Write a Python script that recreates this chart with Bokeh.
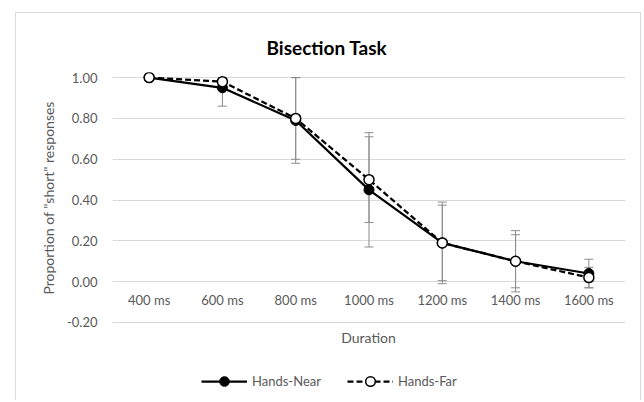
import numpy as np
from bokeh.plotting import figure
from bokeh.layouts import column
from bokeh.models import (ColumnDataSource, FactorRange, Range1d, FixedTicker, Label,
                          NumeralTickFormatter, Whisker, TeeHead, Legend, LegendItem, Title)
from bokeh.embed import file_html
from bokeh.resources import INLINE

durations = ["400 ms", "600 ms", "800 ms", "1000 ms", "1200 ms", "1400 ms", "1600 ms"]
near = [1.00, 0.95, 0.79, 0.45, 0.19, 0.10, 0.04]
near_err = [0.00, 0.09, 0.21, 0.28, 0.20, 0.15, 0.07]
far = [1.00, 0.98, 0.80, 0.50, 0.19, 0.10, 0.02]
far_err = [0.00, 0.03, 0.20, 0.21, 0.185, 0.13, 0.05]
y_ticks = [-0.2, 0.0, 0.2, 0.4, 0.6, 0.8, 1.0]

FONT = "Lato"
GREY = "#595959"
YMAX = 1.0

def src(vals, errs):
    v = np.array(vals)
    e = np.array(errs)
    return ColumnDataSource(dict(x=durations, y=v,
                                 upper=np.minimum(v + e, YMAX),
                                 lower=v - e))

s_near = src(near, near_err)
s_far = src(far, far_err)

p = figure(width=624, height=317, output_backend="svg", toolbar_location=None,
           x_range=FactorRange(*durations, range_padding=0),
           y_range=Range1d(-0.205, 1.025),
           min_border_left=96, min_border_right=15, min_border_top=59, min_border_bottom=7,
           outline_line_color=None, background_fill_color="white", border_fill_color="white")

p.title = Title(text="Bisection Task", align="left", text_font=FONT, text_font_size="19px",
                text_font_style="bold", text_color="#000000", offset=154, standoff=28)

p.xgrid.grid_line_color = None
p.ygrid.grid_line_color = "#d9d9d9"
p.ygrid.grid_line_width = 1
p.ygrid.ticker = FixedTicker(ticks=y_ticks)

p.yaxis.ticker = FixedTicker(ticks=y_ticks)
p.yaxis.formatter = NumeralTickFormatter(format="0.00")
p.yaxis.axis_line_color = None
p.yaxis.major_tick_line_color = None
p.yaxis.minor_tick_line_color = None
p.yaxis.major_tick_out = 0
p.yaxis.major_tick_in = 0
p.yaxis.major_label_standoff = 15
p.yaxis.major_label_text_font = FONT
p.yaxis.major_label_text_font_size = "13px"
p.yaxis.major_label_text_color = GREY
p.yaxis.axis_label = 'Proportion of "short" responses'
p.yaxis.axis_label_text_font = FONT
p.yaxis.axis_label_text_font_size = "14px"
p.yaxis.axis_label_text_font_style = "normal"
p.yaxis.axis_label_text_color = GREY
p.yaxis.axis_label_standoff = 7

p.xaxis.fixed_location = 0
p.xaxis.axis_line_color = None
p.xaxis.major_tick_line_color = None
p.xaxis.minor_tick_line_color = None
p.xaxis.major_tick_out = 0
p.xaxis.major_tick_in = 0
p.xaxis.major_label_standoff = 10
p.xaxis.major_label_text_font = FONT
p.xaxis.major_label_text_font_size = "13px"
p.xaxis.major_label_text_color = GREY

for s in (s_near, s_far):
    w = Whisker(base="x", upper="upper", lower="lower", source=s, dimension="height",
                line_color="#8c8c8c", line_width=1,
                upper_head=TeeHead(size=9, line_color="#8c8c8c", line_width=1),
                lower_head=TeeHead(size=9, line_color="#8c8c8c", line_width=1))
    p.add_layout(w)

p.line("x", "y", source=s_near, line_color="black", line_width=2.25)
p.scatter("x", "y", source=s_near, size=10, fill_color="black", line_color="black")
p.line("x", "y", source=s_far, line_color="black", line_width=2.25, line_dash="6 3")
p.scatter("x", "y", source=s_far, size=10, fill_color="white", line_color="black",
          line_width=1.5)

# lower strip: axis title and legend (series drawn out of view, only for legend glyphs)
p2 = figure(width=624, height=70, output_backend="svg", toolbar_location=None,
            x_range=FactorRange(*durations, range_padding=0), y_range=Range1d(10, 11),
            x_axis_type=None, y_axis_type=None, min_border=0,
            outline_line_color=None, background_fill_color="white", border_fill_color="white")
p2.xgrid.visible = False
p2.ygrid.visible = False

p2.add_layout(Label(x=256, y=63, x_units="screen", y_units="screen", text="Duration",
                    text_align="center", text_baseline="middle", text_font=FONT,
                    text_font_size="14px", text_color=GREY))

ln = p2.line("x", "y", source=s_near, line_color="black", line_width=2.25)
mn = p2.scatter("x", "y", source=s_near, size=10, fill_color="black", line_color="black")
lf = p2.line("x", "y", source=s_far, line_color="black", line_width=2.25, line_dash="6 3")
mf = p2.scatter("x", "y", source=s_far, size=10, fill_color="white", line_color="black",
                line_width=1.5)

legend = Legend(items=[LegendItem(label="Hands-Near", renderers=[ln, mn]),
                       LegendItem(label="Hands-Far", renderers=[lf, mf])],
                orientation="horizontal", location=(89, 7),
                border_line_color=None, background_fill_alpha=0,
                label_text_font=FONT, label_text_font_size="13px", label_text_color=GREY,
                glyph_width=46, glyph_height=24, label_standoff=5, spacing=26,
                padding=0, margin=0)
p2.add_layout(legend)

layout = column(p, p2, spacing=0,
                styles={"margin-left": "15px", "margin-top": "12px",
                        "border-top": "1px solid #d9d9d9",
                        "border-left": "1px solid #d9d9d9",
                        "border-right": "1px solid #d9d9d9"})

open("out.html", "w").write(file_html(layout, INLINE))
